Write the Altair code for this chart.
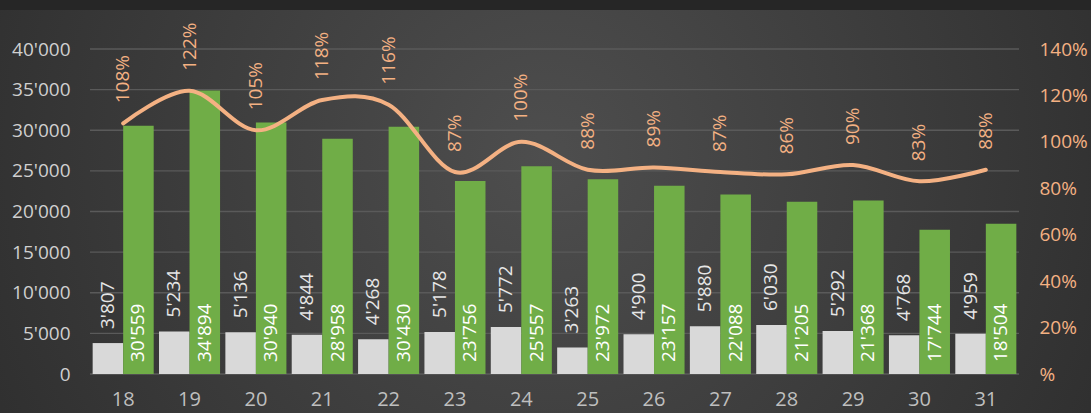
import altair as alt
import pandas as pd

categories = ["18", "19", "20", "21", "22", "23", "24", "25", "26", "27", "28", "29", "30", "31"]
white_values = [3807, 5234, 5136, 4844, 4268, 5178, 5772, 3263, 4900, 5880, 6030, 5292, 4768, 4959]
green_values = [30559, 34894, 30940, 28958, 30430, 23756, 25557, 23972, 23157, 22088, 21205, 21368, 17744, 18504]
pct_values = [108, 122, 105, 118, 116, 87, 100, 88, 89, 87, 86, 90, 83, 88]
left_ticks = [0, 5000, 10000, 15000, 20000, 25000, 30000, 35000, 40000]
right_ticks = [0, 20, 40, 60, 80, 100, 120, 140]

FONT = "Open Sans"
FS = 19
GREEN = "#70AD47"
WHITE = "#D9D9D9"
ORANGE = "#F4B183"

long_rows = []
for c, w, g in zip(categories, white_values, green_values):
    long_rows.append({"cat": c, "series": "A", "value": w})
    long_rows.append({"cat": c, "series": "B", "value": g})
long_df = pd.DataFrame(long_rows)
pct_df = pd.DataFrame({"cat": categories, "pct": pct_values})
grid_df = pd.DataFrame({"value": left_ticks})

x_enc = alt.X("cat:N", sort=categories,
              scale=alt.Scale(paddingInner=0.08, paddingOuter=0.04),
              axis=alt.Axis(title=None, labelAngle=0, labelFont=FONT, labelFontSize=20,
                            labelColor="#BFBFBF", labelPadding=15, ticks=False,
                            domain=False, grid=False, zindex=1))
xoff = alt.XOffset("series:N", scale=alt.Scale(domain=["A", "B"], paddingInner=0, paddingOuter=0))
y_left = alt.Y("value:Q",
               scale=alt.Scale(domain=[0, 40000], nice=False, zero=True),
               axis=alt.Axis(title=None, values=left_ticks,
                             labelExpr="replace(format(datum.value, ','), ',', \"'\")",
                             labelFont=FONT, labelFontSize=FS, labelColor="#D0D0D0",
                             labelPadding=20, ticks=False, domain=False,
                             grid=False, zindex=1))

bg = alt.Chart(pd.DataFrame({"k": [0]})).mark_rect(
    color={"gradient": "radial", "x1": 0.5, "y1": 0.45, "r1": 0, "x2": 0.5, "y2": 0.45, "r2": 0.75,
           "stops": [{"offset": 0, "color": "#4E4E4E"}, {"offset": 1, "color": "#252525"}]}
).encode(x=alt.value(-90), x2=alt.value(1001), y=alt.value(-39), y2=alt.value(364))

grid = alt.Chart(grid_df).mark_rule(color="#5A5A5A", strokeWidth=1.3).encode(
    y=alt.Y("value:Q"), x=alt.value(0), x2=alt.value(929)
)

bars = alt.Chart(long_df).mark_bar().encode(
    x=x_enc, xOffset=xoff, y=y_left,
    color=alt.Color("series:N", scale=alt.Scale(domain=["A", "B"], range=[WHITE, GREEN]), legend=None),
)

lab = alt.Chart(long_df).transform_calculate(
    label="replace(format(datum.value, ','), ',', \"'\")"
)

white_text = lab.transform_filter("datum.series == 'A'").mark_text(
    angle=270, align="left", baseline="middle", dx=14, font=FONT, fontSize=FS, color="#E6E6E6"
).encode(x=alt.X("cat:N", sort=categories), xOffset=xoff, y=alt.Y("value:Q"), text="label:N")

green_text = lab.transform_filter("datum.series == 'B'").mark_text(
    angle=270, align="left", baseline="middle", dx=12, font=FONT, fontSize=FS, color="#FFFFFF"
).encode(x=alt.X("cat:N", sort=categories), xOffset=xoff, y=alt.datum(0), text="label:N")

left = alt.layer(bg, grid, bars, white_text, green_text)

y_right = alt.Y("pct:Q",
                scale=alt.Scale(domain=[0, 140], nice=False),
                axis=alt.Axis(title=None, orient="right", values=right_ticks,
                              labelExpr="datum.value == 0 ? '%' : datum.value + '%'",
                              labelFont=FONT, labelFontSize=FS, labelColor=ORANGE,
                              labelPadding=20, ticks=False, domain=False, grid=False, zindex=1))

line = alt.Chart(pct_df).mark_line(
    interpolate="cardinal", color=ORANGE, strokeWidth=4, strokeCap="round"
).encode(x=alt.X("cat:N", sort=categories), y=y_right)

pct_text = alt.Chart(pct_df).transform_calculate(
    label="datum.pct + '%'"
).mark_text(
    angle=270, align="left", baseline="middle", dx=20, font=FONT, fontSize=FS, color=ORANGE
).encode(x=alt.X("cat:N", sort=categories), y=alt.Y("pct:Q"), text="label:N")

right = alt.layer(line, pct_text)

chart = alt.layer(left, right).resolve_scale(y="independent").properties(
    width=929, height=325,
    background="#262626",
    padding={"left": 90, "top": 49, "right": 72, "bottom": 39},
    autosize=alt.AutoSizeParams(type="none"),
).configure_view(stroke=None)

chart.save("out.html", embed_options={"renderer": "svg", "actions": False})
